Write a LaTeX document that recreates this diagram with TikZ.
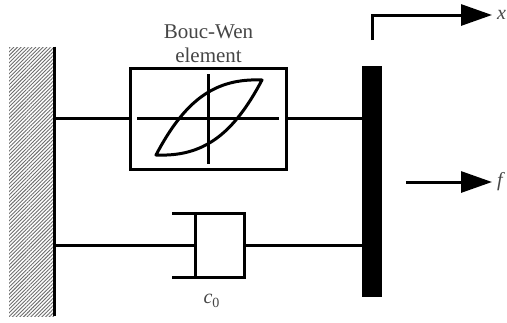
\documentclass[tikz,border=0pt]{standalone}
\usepackage{fontspec}
\setmainfont{Liberation Serif}
\usetikzlibrary{arrows.meta,positioning,patterns.meta}
\definecolor{lblgray}{RGB}{70,70,70}
\definecolor{hatchgray}{RGB}{110,110,110}
\tikzset{
  wire/.style={line width=3pt,color=black},
  arr/.style={-{Triangle[length=31pt,width=21pt]},line width=3pt,color=black},
  blk/.style={draw=black,line width=3pt,fill=white,inner sep=0pt,outer sep=0pt},
  lbl/.style={font=\fontsize{21}{24}\selectfont,color=lblgray,align=center,inner sep=0pt},
  sym/.style={font=\fontsize{20}{21}\selectfont\itshape,color=lblgray,inner sep=0pt},
}
\begin{document}
\begin{tikzpicture}[x=1pt,y=-1pt]
  \useasboundingbox[fill=white] (0,0) rectangle (507,322);
  % Wall
  \node[minimum width=45pt,minimum height=269pt,inner sep=0pt,
        pattern={Lines[angle=45,distance=2.6pt,line width=0.9pt]},pattern color=hatchgray](wall) at (31.5,181.5){};
  \draw[wire](wall.north east)--(wall.south east);
  % Bouc-Wen box
  \node[blk,minimum width=156pt,minimum height=101pt](bw) at (208.5,118.5){};
  \node[lbl,above=5pt of bw](bwlbl){Bouc-Wen\\element};
  % Plate
  \node[draw=none,fill=black,minimum width=20pt,minimum height=231pt,inner sep=0pt](bar) at (372,181.5){};
  % Damper
  \node[blk,minimum width=49pt,minimum height=64pt](dash) at (219.5,245){};
  \node[sym,below=17pt of dash,xshift=-8pt](dashlbl){c\raisebox{-4pt}{\fontsize{14}{14}\selectfont\upshape 0}};
  % Hysteresis loop
  \coordinate (axl) at (137,118);
  \coordinate (axr) at (279,118);
  \coordinate (axt) at (208,74);
  \coordinate (axb) at (208,164);
  \coordinate (lpa) at (156,155);
  \coordinate (lpb) at (262,80);
  % Motion and force
  \coordinate (xs) at (372,40);
  \coordinate (xe) at (492,15);
  \coordinate (fs) at (406,182);
  \coordinate (fe) at (492,182);
  \node[sym,anchor=west](xlbl) at (497,15){x};
  \node[sym,anchor=west](flbl) at (497,182){f};

  % Connectors
  \draw[wire](wall.east|-bw.west)--(bw.west);
  \draw[wire](bw.east)--(bar.west|-bw.east);
  \draw[wire](wall.east|-dash.west)--(dash.west);
  \draw[wire](dash.east)--(bar.west|-dash.east);
  \draw[wire](dash.north west)--++(-23,0);
  \draw[wire](dash.south west)--++(-23,0);
  % Loop
  \draw[wire](axl)--(axr);
  \draw[wire](axt)--(axb);
  \draw[wire,line join=round](lpa) .. controls (185,100) and (215,78) .. (lpb)
     .. controls (233,135) and (203,157) .. cycle;
  % Arrows
  \draw[arr,line join=miter](xs)|-(xe);
  \draw[arr](fs)--(fe);
\end{tikzpicture}
\end{document}
